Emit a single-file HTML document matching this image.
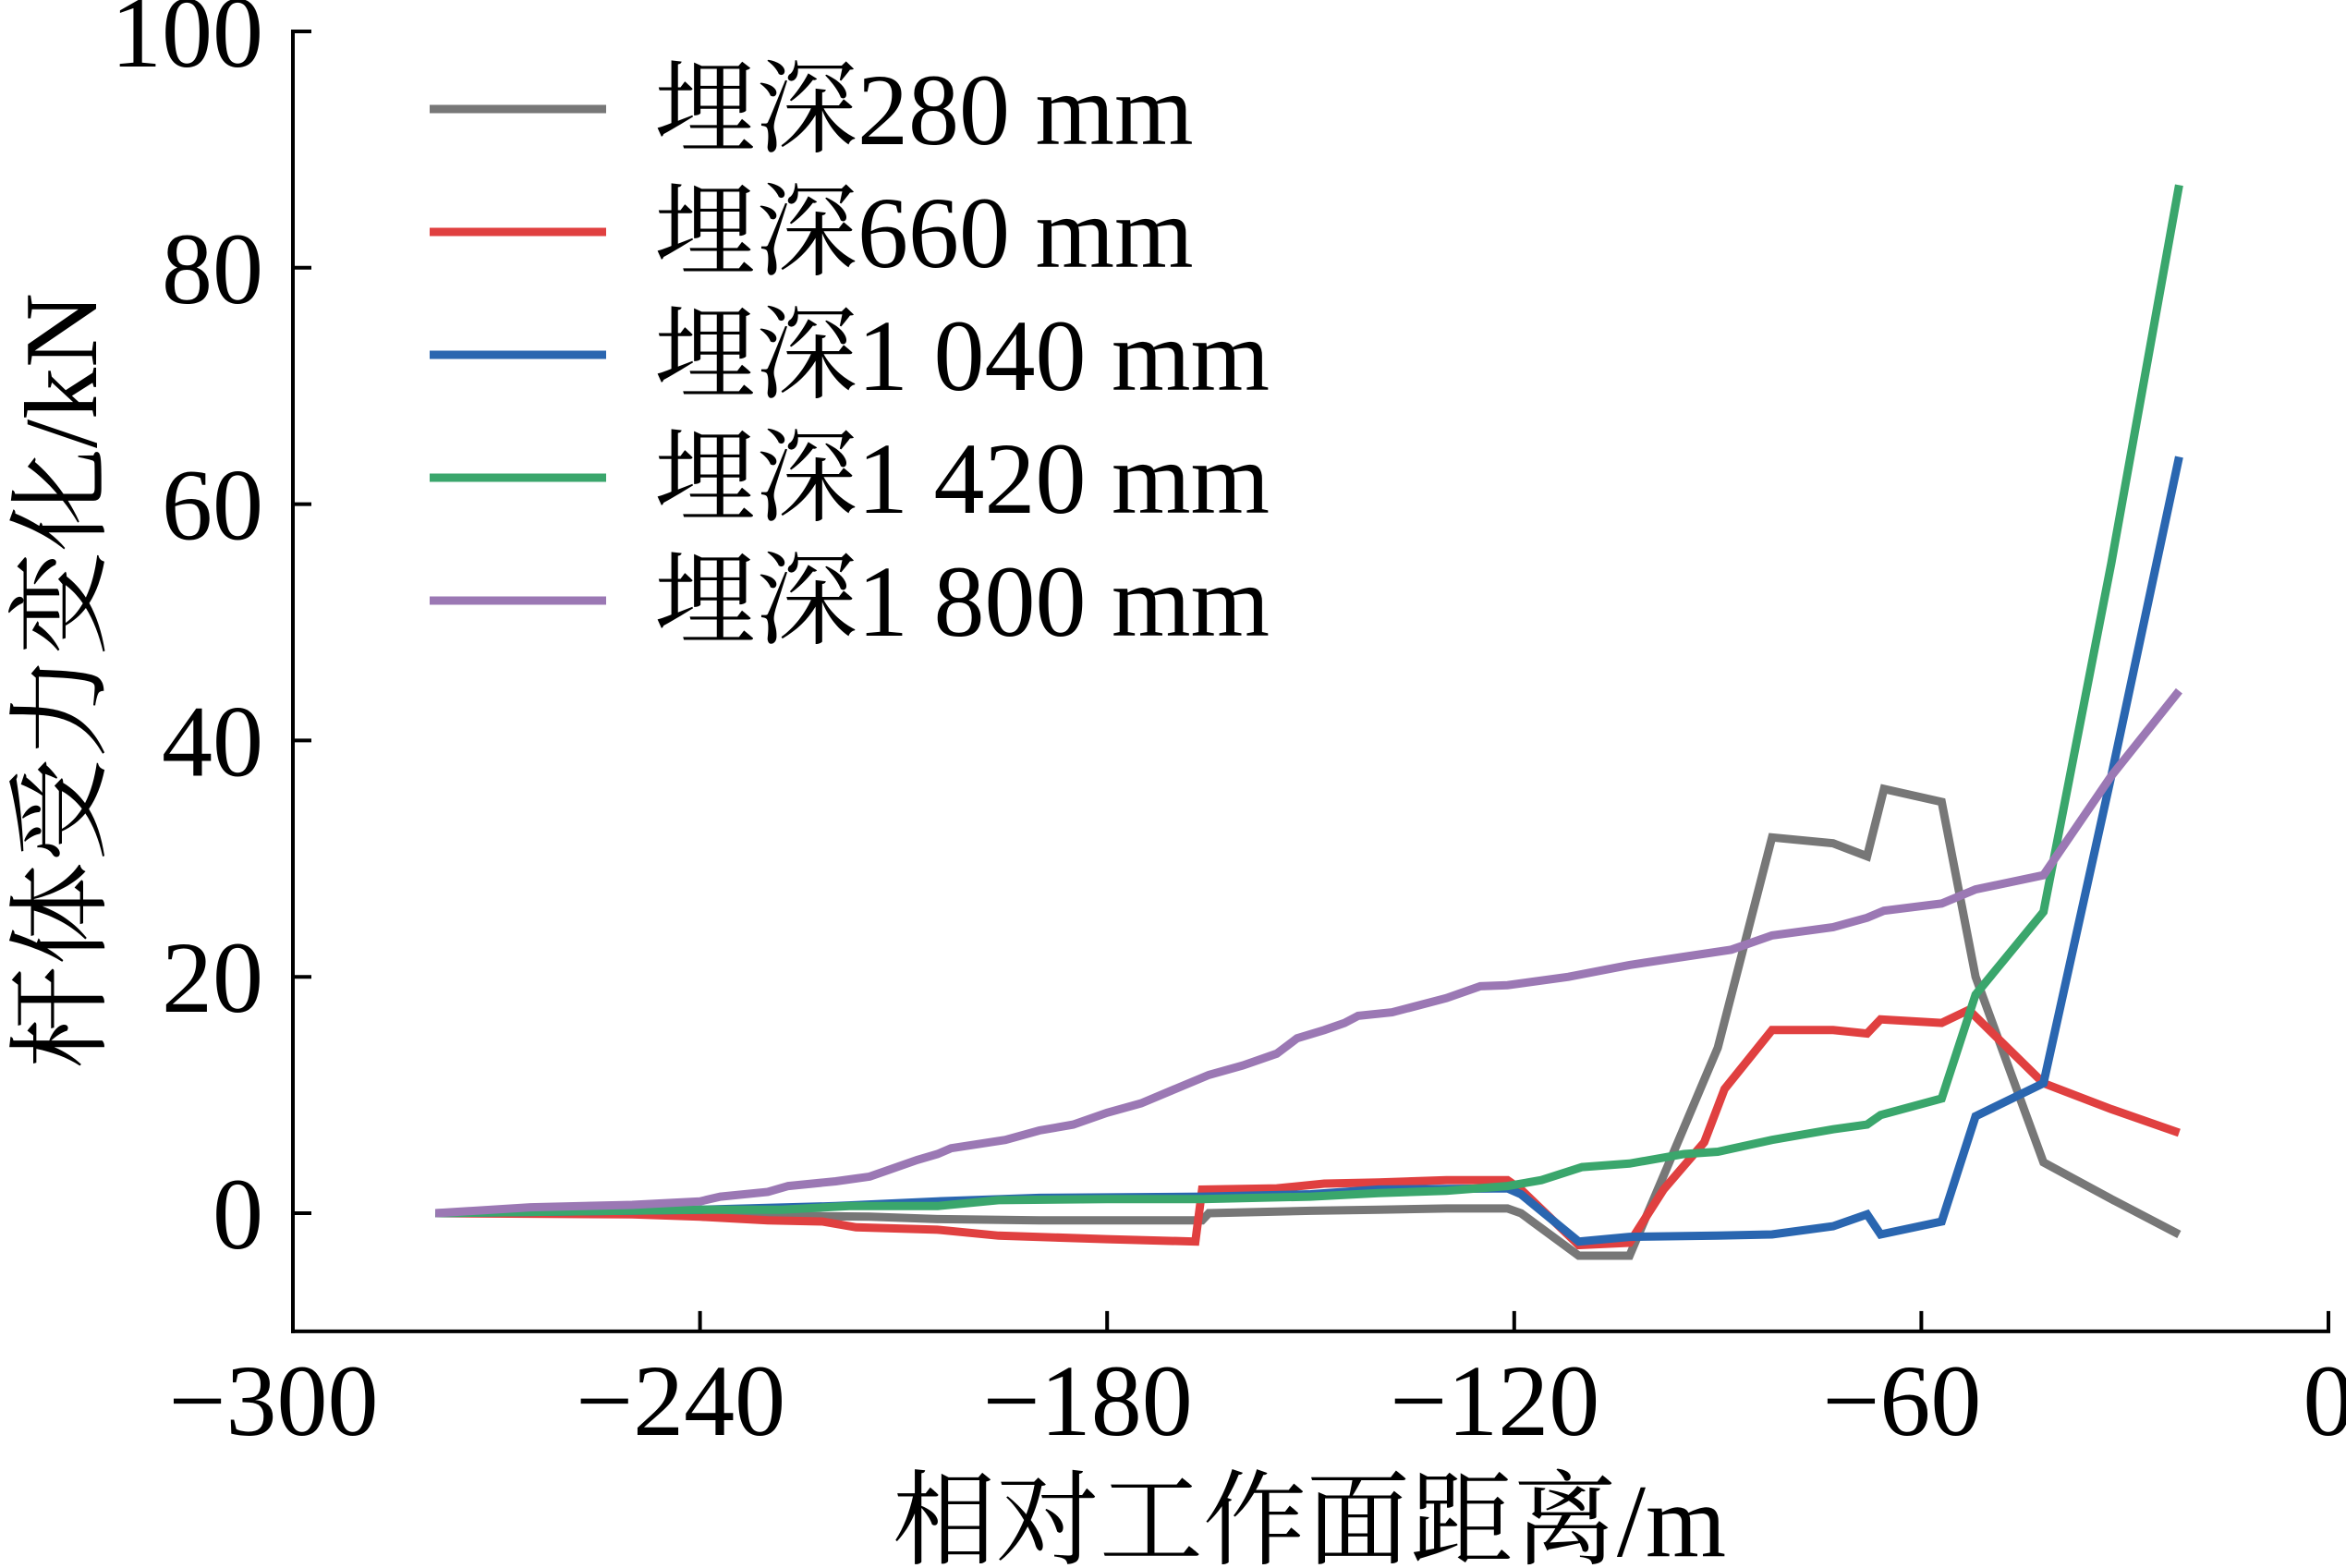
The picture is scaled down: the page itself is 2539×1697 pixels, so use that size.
<!DOCTYPE html>
<html><head><meta charset="utf-8"><style>
html,body{margin:0;padding:0;background:#fff;}
svg{display:block;}
text{font-family:"Liberation Serif","Noto Serif CJK SC","Noto Sans CJK SC",serif;fill:#000;}
</style></head><body>
<svg id="chart" width="2539" height="1697" viewBox="0 0 2539 1697" xmlns="http://www.w3.org/2000/svg">
<g id="axes"></g>
<g id="series"></g>
<g id="legend"></g>
</svg>
<script>
const xTicks = [-300, -240, -180, -120, -60, 0];
const yTicks = [0, 20, 40, 60, 80, 100];
const seriesNames = ["埋深280 mm", "埋深660 mm", "埋深1 040 mm", "埋深1 420 mm", "埋深1 800 mm"];
const seriesColors = ["#777777", "#e04040", "#2a66b0", "#3aa66c", "#9b78b4"];
const gray280 = [[-279,0],[-250,0],[-230,-0.2],[-215,-0.3],[-205,-0.5],[-190,-0.6],[-178,-0.6],[-166,-0.6],[-165,0],[-150,0.2],[-140,0.3],[-130,0.4],[-121,0.4],[-119,0],[-110.5,-3.6],[-103,-3.6],[-97,4.5],[-90,14],[-82,31.8],[-73,31.3],[-68,30.2],[-65.5,35.9],[-57,34.8],[-52,20],[-42,4.3],[-32,1.2],[-22,-1.8]];
const red660 = [[-279,0],[-250,-0.1],[-240,-0.3],[-230,-0.6],[-222,-0.7],[-217,-1.2],[-205,-1.4],[-196,-1.9],[-180,-2.2],[-167,-2.4],[-166,2.0],[-155,2.1],[-148,2.5],[-140,2.6],[-130,2.8],[-121,2.8],[-119,2.0],[-110.5,-2.7],[-103,-2.5],[-98,2],[-92,6],[-89,10.5],[-82,15.5],[-73,15.5],[-68,15.2],[-66,16.4],[-57,16.1],[-53,17.2],[-42,11],[-32,8.8],[-22,6.8]];
const blue1040 = [[-279,0],[-240,0.3],[-220,0.6],[-205,1.0],[-190,1.3],[-166,1.4],[-150,1.6],[-140,2.0],[-121,2.1],[-119,1.6],[-110.5,-2.4],[-103,-2],[-90,-1.9],[-82,-1.8],[-73,-1.1],[-68,-0.1],[-66,-1.8],[-57,-0.7],[-52,8.2],[-42,11],[-32,37],[-22,64]];
const green1420 = [[-279,0],[-240,0.3],[-228,0.3],[-218,0.6],[-205,0.6],[-196,1.1],[-180,1.2],[-166,1.2],[-150,1.4],[-140,1.7],[-130,1.9],[-121,2.3],[-116,2.8],[-110,3.9],[-103,4.2],[-95,5],[-90,5.2],[-82,6.2],[-73,7.1],[-68,7.5],[-66,8.3],[-57,9.7],[-52,18.5],[-42,25.5],[-32,55],[-22,87]];
const purple1800 = [[-279,0],[-265,0.5],[-250,0.7],[-240,1],[-237,1.4],[-230,1.8],[-227,2.3],[-220,2.7],[-215,3.1],[-208,4.5],[-205,5.0],[-203,5.5],[-195,6.2],[-190,7],[-185,7.5],[-180,8.5],[-175,9.3],[-170,10.5],[-165,11.7],[-160,12.5],[-155,13.5],[-152,14.8],[-148,15.5],[-145,16.1],[-143,16.7],[-138,17],[-130,18.2],[-125,19.2],[-121,19.3],[-112,20],[-103,21],[-95,21.7],[-88,22.3],[-82,23.5],[-73,24.2],[-68,25],[-65.5,25.6],[-57,26.2],[-52,27.4],[-42,28.6],[-32,37],[-22,44.2]];
const allSeries = [gray280, red660, blue1040, green1420, purple1800];

const NS = "http://www.w3.org/2000/svg";
const X0 = 317, X1 = 2520, Y0 = 1313, Y100 = 34;
function sx(v){ return X0 + (v + 300) / 300 * (X1 - X0); }
function sy(v){ return Y0 - v / 100 * (Y0 - Y100); }
function mk(tag, attrs, parent){
  const e = document.createElementNS(NS, tag);
  for (const k in attrs) e.setAttribute(k, attrs[k]);
  parent.appendChild(e); return e;
}
const axes = document.getElementById("axes");
const yBottom = sy(-10);
let l = mk("line", {x1:X0, y1:sy(100)-2, x2:X0, y2:yBottom+2, stroke:"#000", "stroke-width":4}, axes);


l = mk("line", {x1:X0-2, y1:yBottom, x2:X1+2, y2:yBottom, stroke:"#000", "stroke-width":4}, axes);


xTicks.forEach(v => {
  const t = mk("line", {x1:sx(v), y1:yBottom, x2:sx(v), y2:yBottom-22, stroke:"#000", "stroke-width":4}, axes);
  
  
  const tx = mk("text", {x:sx(v) - (v < 0 ? 21 : 0), y:1553, "font-size":110, "text-anchor":"middle"}, axes);
  tx.textContent = v < 0 ? "\u2212" + Math.abs(v) : String(v);
  
  
});
yTicks.forEach(v => {
  const t = mk("line", {x1:X0, y1:sy(v), x2:X0+20, y2:sy(v), stroke:"#000", "stroke-width":4}, axes);
  
  
  const tx = mk("text", {x:285, y:sy(v)+38, "font-size":110, "text-anchor":"end"}, axes);
  tx.textContent = String(v);
  
  
});
let xt = mk("text", {x:1417, y:1684, "font-size":112, "text-anchor":"middle"}, axes);
xt.textContent = "相对工作面距离/m";


let yt = mk("text", {x:0, y:0, "font-size":112, "text-anchor":"middle", transform:"translate(104,737) rotate(-90)"}, axes);
yt.textContent = "杆体受力变化/kN";



const sg = document.getElementById("series");
allSeries.forEach((d, i) => {
  const p = mk("polyline", {points: d.map(q => sx(q[0]).toFixed(1) + "," + sy(q[1]).toFixed(1)).join(" "), fill:"none", stroke:seriesColors[i], "stroke-width":9, "stroke-linejoin":"miter"}, sg);
  
  
});
const lg = document.getElementById("legend");
seriesNames.forEach((n, i) => {
  const y = 118 + i * 133;
  const ln = mk("line", {x1:465, y1:y, x2:656, y2:y, stroke:seriesColors[i], "stroke-width":9}, lg);
  
  
  const tx = mk("text", {x:708, y:y+38, "font-size":110}, lg);
  tx.textContent = n;
  
  
});
</script>
</body></html>
